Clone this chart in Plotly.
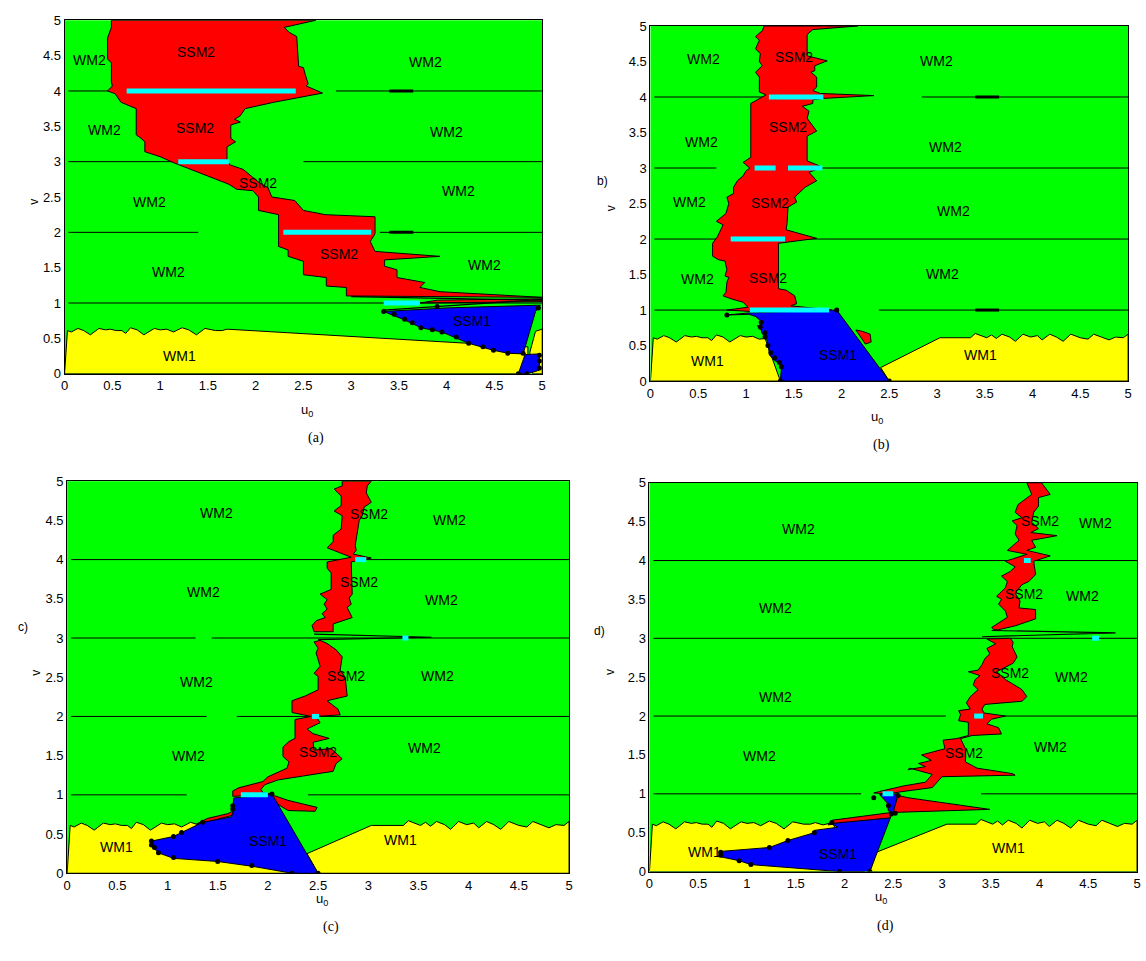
import plotly.graph_objects as go

W, H = 1146, 961
GREEN, YELLOW, RED, BLUE, CYAN = "#00FF00", "#FFFF00", "#FF0000", "#0000FF", "#00FFFF"

# ---------------- shared boundary of the WM1 region (wavy top) ----------------
wave_left = [(0.03, 0.61), (0.07, 0.59), (0.14, 0.64), (0.2, 0.61), (0.27, 0.55), (0.36, 0.64),
             (0.43, 0.62), (0.48, 0.63), (0.54, 0.61), (0.6, 0.61), (0.64, 0.57), (0.69, 0.65),
             (0.76, 0.62), (0.83, 0.55), (0.94, 0.64), (1.0, 0.62), (1.07, 0.63), (1.14, 0.59),
             (1.23, 0.65), (1.3, 0.62), (1.38, 0.55), (1.47, 0.64), (1.58, 0.61), (1.65, 0.61),
             (1.70, 0.63)]
wave_right = [(3.35, 0.61), (3.4, 0.67), (3.47, 0.63), (3.52, 0.61), (3.57, 0.65), (3.62, 0.6),
              (3.68, 0.66), (3.76, 0.62), (3.82, 0.56), (3.9, 0.66), (3.98, 0.62), (4.05, 0.64),
              (4.1, 0.58), (4.18, 0.66), (4.25, 0.62), (4.32, 0.56), (4.4, 0.66), (4.5, 0.61),
              (4.58, 0.59), (4.64, 0.66), (4.72, 0.62), (4.8, 0.58), (4.87, 0.62), (4.95, 0.61),
              (5.0, 0.66)]

# ================= panel (a) =================
a_yellow = [[(0, 0)] + wave_left + [(4.85, 0.38), (4.85, 0.0)],
            [(4.87, 0.3), (4.93, 0.6), (5.0, 0.63), (5.0, 0.0), (4.9, 0.0)]]
a_red_left = [(0.49, 5.0), (0.49, 4.9), (0.45, 4.75), (0.45, 4.45), (0.49, 4.4), (0.49, 4.13),
              (0.50, 4.07), (0.45, 4.0), (0.53, 3.96), (0.59, 3.84), (0.75, 3.75), (0.75, 3.38),
              (0.80, 3.33), (0.84, 3.28), (0.84, 3.14), (1.0, 3.07), (1.15, 2.98), (1.45, 2.82),
              (1.72, 2.68), (1.80, 2.61), (1.97, 2.59), (2.03, 2.5), (2.03, 2.31), (2.24, 2.25),
              (2.24, 1.8), (2.34, 1.75), (2.34, 1.66), (2.5, 1.59), (2.5, 1.4), (2.74, 1.36),
              (2.74, 1.24), (2.95, 1.22), (2.95, 1.1)]
a_red_right = [(2.63, 5.0), (2.3, 4.9), (2.35, 4.83), (2.43, 4.77), (2.45, 4.35), (2.5, 4.33),
               (2.52, 4.23), (2.55, 4.1), (2.53, 4.07), (2.7, 3.97), (2.53, 3.92), (2.19, 3.84),
               (1.89, 3.75), (1.84, 3.65), (1.78, 3.6), (1.84, 3.56), (1.74, 3.52), (1.74, 3.33),
               (1.79, 3.28), (1.7, 3.21), (1.7, 3.0), (1.74, 2.95), (1.87, 2.89), (2.04, 2.7),
               (2.13, 2.63), (2.17, 2.5), (2.41, 2.45), (2.5, 2.31), (2.73, 2.25), (3.25, 2.22),
               (3.25, 1.98), (3.2, 1.87), (3.25, 1.73), (3.93, 1.66), (3.35, 1.61), (3.35, 1.52),
               (3.48, 1.47), (3.48, 1.36), (3.77, 1.29), (3.72, 1.22), (3.93, 1.16), (5.0, 1.08)]
a_red_extra = [[(3.72, 1.0), (5.0, 1.02), (5.0, 1.06), (3.9, 1.04)]]
a_blue = [[(3.34, 0.88), (4.0, 0.93), (4.98, 0.97), (4.93, 0.88), (4.80, 0.28), (4.64, 0.29),
           (4.49, 0.33), (4.23, 0.43), (3.95, 0.59), (3.73, 0.65), (3.56, 0.76)],
          [(4.75, 0.0), (4.82, 0.27), (4.97, 0.28), (4.97, 0.05), (4.85, 0.0)]]
a_extra_lines = [[(3.34, 0.9), (5.0, 1.05)], [(3.5, 1.0), (5.0, 1.0)], [(3.0, 1.09), (5.0, 1.04)]]
a_hlines = [(4, 0.04, 0.5), (4, 2.84, 5.0), (3, 0.04, 1.15), (3, 2.5, 5.0),
            (2, 0.04, 1.4), (2, 3.3, 5.0), (1, 0.04, 3.4)]
a_thick = [(4, 3.4, 3.65), (2, 3.4, 3.65)]
a_cyan = [(4, 0.65, 2.42), (3, 1.19, 1.72), (2, 2.29, 3.21), (1, 3.34, 3.72)]
a_dots = [(3.34, 0.88), (3.45, 0.84), (3.56, 0.77), (3.64, 0.72), (3.73, 0.65), (3.85, 0.62),
          (3.95, 0.59), (4.1, 0.52), (4.23, 0.43), (4.38, 0.38), (4.49, 0.33), (4.64, 0.29),
          (4.80, 0.29), (4.75, 0.0), (4.84, 0.0), (4.97, 0.08), (4.97, 0.18), (4.97, 0.26),
          (4.96, 0.93), (3.9, 0.95)]
a_labels = [("WM2", 0.26, 4.44), ("SSM2", 1.38, 4.55), ("WM2", 3.78, 4.41), ("WM2", 0.42, 3.45),
            ("SSM2", 1.37, 3.48), ("WM2", 4.0, 3.42), ("SSM2", 2.03, 2.7), ("WM2", 0.89, 2.43),
            ("WM2", 4.12, 2.59), ("SSM2", 2.87, 1.69), ("WM2", 1.09, 1.44), ("WM2", 4.4, 1.54),
            ("SSM1", 4.27, 0.74), ("WM1", 1.2, 0.25), ("WM1", 5.12, 0.36)]

# ================= panel (b) =================
b_yellow = [[(0, 0)] + [p for p in wave_left if p[0] <= 1.17] + [(1.2, 0.6), (1.36, 0.0)],
            [(2.5, 0.0), (2.41, 0.19), (3.03, 0.61)] + wave_right + [(5.0, 0.0)]]
b_red_left = [(1.19, 5.0), (1.17, 4.93), (1.14, 4.9), (1.10, 4.85), (1.14, 4.8), (1.10, 4.68),
              (1.15, 4.61), (1.14, 4.5), (1.17, 4.44), (1.10, 4.35), (1.14, 4.28), (1.14, 4.07),
              (1.21, 4.03), (1.14, 3.98), (1.05, 3.91), (1.05, 3.15), (0.97, 3.08), (1.04, 3.0),
              (1.0, 2.96), (0.97, 2.89), (0.91, 2.82), (0.87, 2.73), (0.87, 2.64), (0.80, 2.59),
              (0.82, 2.5), (0.79, 2.36), (0.74, 2.31), (0.69, 2.25), (0.76, 2.2), (0.72, 2.1),
              (0.70, 2.03), (0.65, 1.94), (0.65, 1.76), (0.71, 1.71), (0.78, 1.69), (0.80, 1.57),
              (0.78, 1.48), (0.82, 1.46), (0.80, 1.39), (0.79, 1.25), (0.76, 1.2), (0.84, 1.16),
              (0.97, 1.11), (1.02, 1.04), (0.80, 1.0), (1.05, 0.98)]
b_red_right = [(2.17, 5.0), (1.70, 4.95), (1.64, 4.88), (1.64, 4.58), (1.85, 4.51), (1.72, 4.44),
               (1.72, 4.37), (1.68, 4.35), (1.74, 4.28), (1.74, 4.14), (1.70, 4.09), (1.78, 4.05),
               (2.34, 4.02), (1.81, 3.98), (1.70, 3.96), (1.70, 3.91), (1.59, 3.87), (1.66, 3.8),
               (1.64, 3.7), (1.74, 3.52), (1.64, 3.45), (1.64, 3.1), (1.77, 3.03), (1.76, 2.99),
               (1.66, 2.94), (1.74, 2.82), (1.62, 2.73), (1.51, 2.59), (1.53, 2.52), (1.44, 2.45),
               (1.43, 2.22), (1.42, 2.13), (1.74, 2.01), (1.34, 1.94), (1.34, 1.3), (1.42, 1.28),
               (1.51, 1.2), (1.53, 1.09), (1.47, 1.06), (1.9, 1.0)]
b_red_extra = [[(2.15, 0.72), (2.22, 0.7), (2.3, 0.66), (2.31, 0.55), (2.25, 0.52)],
               [(1.12, 0.78), (1.18, 0.77), (1.15, 0.72)]]
b_blue = [[(0.80, 0.93), (1.03, 0.96), (1.95, 1.0), (2.5, 0.0), (1.36, 0.0), (1.37, 0.17),
           (1.36, 0.24), (1.30, 0.29), (1.25, 0.36), (1.24, 0.45), (1.23, 0.54), (1.22, 0.58),
           (1.165, 0.68), (1.15, 0.80), (1.16, 0.84), (1.10, 0.91), (1.03, 0.94)]]
b_extra_lines = []
b_hlines = [(4, 0.04, 1.2), (4, 2.84, 5.0), (3, 0.04, 0.69), (3, 1.7, 5.0),
            (2, 0.04, 1.0), (2, 1.5, 5.0), (1, 0.04, 1.0), (1, 2.39, 5.0)]
b_thick = [(4, 3.4, 3.65), (1, 3.4, 3.65)]
b_cyan = [(4, 1.24, 1.81), (3, 1.09, 1.31), (3, 1.44, 1.80), (2, 0.84, 1.41), (1, 1.04, 1.87)]
b_dots = [(0.80, 0.93), (1.36, 0.0), (2.5, 0.0), (1.95, 1.0), (1.16, 0.83), (1.15, 0.76),
          (1.2, 0.62), (1.23, 0.5), (1.26, 0.4), (1.3, 0.33), (1.35, 0.26), (1.37, 0.2), (1.2, 0.68)]
b_labels = [("WM2", 0.56, 4.53), ("SSM2", 1.5, 4.56), ("WM2", 2.99, 4.51), ("SSM2", 1.44, 3.58),
            ("WM2", 0.53, 3.37), ("WM2", 3.09, 3.3), ("WM2", 0.41, 2.52), ("SSM2", 1.25, 2.51),
            ("WM2", 3.17, 2.4), ("WM2", 0.49, 1.44), ("SSM2", 1.23, 1.45), ("WM2", 3.06, 1.51),
            ("SSM1", 1.96, 0.36), ("WM1", 0.6, 0.28), ("WM1", 3.46, 0.36)]

# ================= panel (c) =================
c_yellow = [[(0, 0)] + [p for p in wave_left if p[0] <= 1.30] + [(1.4, 0.6), (2.3, 0.0)],
            [(2.5, 0.0), (2.39, 0.25), (3.03, 0.61)] + wave_right + [(5.0, 0.0)]]
c_red_left = [(2.74, 5.0), (2.74, 4.94), (2.66, 4.9), (2.73, 4.81), (2.73, 4.69), (2.66, 4.62),
              (2.74, 4.56), (2.73, 4.39), (2.65, 4.31), (2.65, 4.23), (2.59, 4.15), (2.83, 4.03),
              (2.59, 3.97), (2.59, 3.89), (2.63, 3.83), (2.63, 3.62), (2.52, 3.56), (2.59, 3.49),
              (2.56, 3.43), (2.59, 3.37), (2.54, 3.31), (2.57, 3.26), (2.48, 3.22), (2.44, 3.16),
              (2.46, 3.08)]
c_red_right = [(3.03, 5.0), (2.99, 4.94), (2.98, 4.85), (3.03, 4.73), (2.96, 4.67), (2.94, 4.56),
               (2.91, 4.5), (2.87, 4.18), (2.88, 4.12), (2.85, 4.07), (3.03, 4.02), (2.83, 3.97),
               (2.84, 3.56), (2.81, 3.51), (2.83, 3.43), (2.79, 3.39), (2.84, 3.26), (2.65, 3.18),
               (2.65, 3.08)]
c_red_left2 = [(2.46, 2.95), (2.5, 2.87), (2.48, 2.81), (2.52, 2.64), (2.46, 2.55), (2.5, 2.51),
               (2.5, 2.34), (2.37, 2.26), (2.24, 2.2), (2.24, 2.05), (2.43, 2.0), (2.27, 1.96),
               (2.27, 1.72), (2.21, 1.68), (2.15, 1.61), (2.15, 1.49), (2.21, 1.42), (2.19, 1.34),
               (2.0, 1.23), (1.95, 1.17), (1.71, 1.09), (1.65, 1.05), (1.65, 0.98)]
c_red_right2 = [(2.52, 2.97), (2.59, 2.93), (2.68, 2.85), (2.74, 2.76), (2.72, 2.59), (2.77, 2.5),
                (2.79, 2.26), (2.59, 2.2), (2.70, 2.09), (2.72, 2.02), (2.48, 2.0), (2.52, 1.92),
                (2.39, 1.84), (2.45, 1.78), (2.61, 1.72), (2.45, 1.67), (2.46, 1.57), (2.63, 1.59),
                (2.74, 1.46), (2.68, 1.4), (2.65, 1.3), (2.3, 1.23), (2.1, 1.19), (1.97, 1.13),
                (1.93, 1.07), (1.95, 1.03), (2.04, 1.01)]
c_red_extra = [[(2.04, 1.0), (2.2, 0.93), (2.49, 0.84), (2.47, 0.79), (2.2, 0.8), (2.1, 0.88)],
               [(1.29, 0.63), (1.4, 0.7), (1.6, 0.76), (1.66, 0.8), (1.65, 0.74), (1.35, 0.64)]]
c_blue = [[(1.66, 0.96), (2.04, 1.01), (2.5, 0.0), (2.24, 0.0), (1.84, 0.09), (1.5, 0.15),
           (1.06, 0.19), (0.91, 0.26), (0.84, 0.35), (0.84, 0.41), (1.06, 0.47), (1.14, 0.52),
           (1.35, 0.65), (1.64, 0.72), (1.65, 0.78), (1.65, 0.84)]]
c_extra_lines = [[(2.46, 3.05), (3.63, 3.01), (2.5, 2.98)]]
c_hlines = [(4, 0.04, 5.0), (3, 0.04, 1.28), (3, 1.44, 5.0), (2, 0.04, 1.39), (2, 1.69, 5.0),
            (1, 0.04, 1.19), (1, 2.4, 5.0)]
c_thick = []
c_cyan = [(4, 2.87, 2.98), (3, 3.34, 3.40), (2, 2.44, 2.51), (1, 1.73, 2.0)]
c_dots = [(0.84, 0.41), (0.84, 0.36), (0.87, 0.33), (0.91, 0.26), (1.06, 0.2), (1.5, 0.15),
          (1.84, 0.1), (2.24, 0.0), (2.5, 0.0), (1.65, 0.86), (1.65, 0.82), (1.14, 0.52),
          (1.06, 0.47), (2.04, 1.01), (1.35, 0.65)]
c_labels = [("WM2", 1.49, 4.6), ("SSM2", 3.01, 4.58), ("WM2", 3.81, 4.51), ("SSM2", 2.91, 3.72),
            ("WM2", 1.36, 3.59), ("WM2", 3.73, 3.48), ("SSM2", 2.78, 2.51), ("WM2", 1.29, 2.44),
            ("WM2", 3.69, 2.51), ("SSM2", 2.5, 1.55), ("WM2", 1.21, 1.49), ("WM2", 3.56, 1.6),
            ("SSM1", 2.0, 0.41), ("WM1", 0.49, 0.34), ("WM1", 3.32, 0.42)]

# ================= panel (d) =================
d_yellow = [[(0, 0)] + wave_left + [(1.78, 0.6), (1.87, 0.63), (2.2, 0.0)],
            [(2.26, 0.0), (2.33, 0.25), (3.05, 0.61)] + wave_right + [(5.0, 0.0)]]
d_red_left = [(3.87, 5.0), (3.92, 4.85), (3.78, 4.72), (3.75, 4.62), (3.82, 4.55), (3.72, 4.51),
              (3.77, 4.45), (3.75, 4.34), (3.79, 4.26), (3.67, 4.13), (3.87, 4.08), (3.65, 3.99),
              (3.75, 3.92), (3.7, 3.86), (3.61, 3.8), (3.67, 3.73), (3.65, 3.65), (3.56, 3.54),
              (3.61, 3.5), (3.58, 3.44), (3.65, 3.35), (3.67, 3.27), (3.51, 3.14), (3.53, 3.11)]
d_red_right = [(4.02, 5.0), (4.11, 4.85), (3.99, 4.81), (3.99, 4.7), (3.94, 4.62), (3.92, 4.49),
               (3.99, 4.41), (3.91, 4.36), (4.18, 4.32), (3.92, 4.26), (3.96, 4.17), (3.87, 4.13),
               (4.11, 4.06), (3.94, 3.99), (3.96, 3.82), (3.89, 3.73), (3.82, 3.69), (3.75, 3.58),
               (3.8, 3.48), (3.79, 3.39), (3.96, 3.37), (3.96, 3.25), (3.75, 3.16), (3.58, 3.11)]
d_red_left2 = [(3.46, 2.99), (3.55, 2.93), (3.46, 2.87), (3.49, 2.8), (3.44, 2.74), (3.41, 2.66),
               (3.37, 2.59), (3.27, 2.57), (3.39, 2.52), (3.34, 2.47), (3.32, 2.4), (3.37, 2.34),
               (3.29, 2.25), (3.25, 2.17), (3.29, 2.09), (3.17, 2.07), (3.19, 2.02), (3.17, 1.94),
               (3.27, 1.92), (3.27, 1.75), (3.15, 1.71), (3.01, 1.69), (3.03, 1.58), (2.79, 1.5),
               (2.89, 1.43), (2.76, 1.39), (2.83, 1.35), (2.65, 1.31), (2.67, 1.33), (2.9, 1.25),
               (2.83, 1.15), (2.6, 1.1), (2.36, 1.03), (2.3, 1.01)]
d_red_right2 = [(3.7, 3.0), (3.73, 2.95), (3.72, 2.89), (3.77, 2.76), (3.73, 2.68), (3.56, 2.57),
                (3.65, 2.47), (3.82, 2.34), (3.87, 2.25), (3.82, 2.19), (3.44, 2.15), (3.41, 2.09),
                (3.43, 2.04), (3.65, 2.0), (3.51, 1.96), (3.46, 1.9), (3.58, 1.85), (3.61, 1.77),
                (3.31, 1.75), (3.19, 1.71), (3.24, 1.58), (3.24, 1.41), (3.36, 1.33), (3.72, 1.26),
                (3.75, 1.24), (3.0, 1.22), (2.95, 1.15), (2.9, 1.08), (2.6, 1.03), (2.45, 1.0)]
d_red_extra = [[(2.55, 0.98), (2.65, 0.95), (3.49, 0.80), (2.6, 0.76), (2.48, 0.76), (1.87, 0.66),
                (1.83, 0.6), (1.95, 0.62), (2.47, 0.69)]]
d_blue = [[(0.73, 0.26), (1.23, 0.31), (1.42, 0.40), (1.69, 0.50), (1.69, 0.53), (1.93, 0.57),
           (1.87, 0.62), (2.47, 0.69), (2.26, 0.0), (1.95, 0.0), (1.04, 0.09), (0.92, 0.14),
           (0.73, 0.19)],
          [(2.36, 0.99), (2.55, 1.0), (2.5, 0.76), (2.45, 0.78), (2.44, 0.88)]]
d_extra_lines = [[(3.41, 3.02), (4.78, 3.07), (3.51, 3.1)]]
d_hlines = [(4, 0.04, 5.0), (3, 0.04, 5.0), (2, 0.04, 3.04), (2, 3.5, 5.0),
            (1, 0.04, 2.17), (1, 3.4, 5.0)]
d_thick = []
d_cyan = [(4, 3.84, 3.91), (3, 4.54, 4.61), (2, 3.33, 3.42), (1, 2.39, 2.5)]
d_dots = [(0.73, 0.25), (0.73, 0.21), (0.92, 0.14), (1.04, 0.09), (1.95, 0.0), (2.26, 0.0),
          (1.23, 0.31), (1.42, 0.40), (1.69, 0.50), (1.87, 0.63), (2.3, 0.95), (2.48, 0.74),
          (2.52, 0.75), (2.55, 0.98), (2.45, 0.85)]
d_labels = [("WM2", 1.53, 4.4), ("SSM2", 4.01, 4.51), ("WM2", 4.57, 4.48), ("WM2", 1.29, 3.39),
            ("SSM2", 3.84, 3.57), ("WM2", 4.44, 3.54), ("WM2", 1.29, 2.25), ("SSM2", 3.7, 2.55),
            ("WM2", 4.33, 2.5), ("WM2", 1.13, 1.49), ("SSM2", 3.23, 1.53), ("WM2", 4.11, 1.6),
            ("SSM1", 1.93, 0.23), ("WM1", 0.56, 0.25), ("WM1", 3.68, 0.3)]

tick_vals = [0, 0.5, 1, 1.5, 2, 2.5, 3, 3.5, 4, 4.5, 5]
tick_text = ["0", "0.5", "1", "1.5", "2", "2.5", "3", "3.5", "4", "4.5", "5"]
captions = ["(a)", "(b)", "(c)", "(d)"]

# ---------------- layout geometry (pixels) ----------------
boxes = [(61, 542, 13.5, 372.5), (651, 1132, 19.3, 380), (63.6, 569, 481.7, 880), (650, 1141, 483.3, 878.3)]

panels = [
    dict(yellow=a_yellow, red=[a_red_left + a_red_right[::-1]], red_extra=a_red_extra, blue=a_blue,
         extra=a_extra_lines, hl=a_hlines, thick=a_thick, cyan=a_cyan, dots=a_dots, labels=a_labels),
    dict(yellow=b_yellow, red=[b_red_left + b_red_right[::-1]], red_extra=b_red_extra, blue=b_blue,
         extra=b_extra_lines, hl=b_hlines, thick=b_thick, cyan=b_cyan, dots=b_dots, labels=b_labels),
    dict(yellow=c_yellow, red=[c_red_left + c_red_right[::-1], c_red_left2 + c_red_right2[::-1]],
         red_extra=c_red_extra, blue=c_blue, extra=c_extra_lines, hl=c_hlines, thick=c_thick,
         cyan=c_cyan, dots=c_dots, labels=c_labels),
    dict(yellow=d_yellow, red=[d_red_left + d_red_right[::-1], d_red_left2 + d_red_right2[::-1]],
         red_extra=d_red_extra, blue=d_blue, extra=d_extra_lines, hl=d_hlines, thick=d_thick,
         cyan=d_cyan, dots=d_dots, labels=d_labels),
]

fig = go.Figure()
annotations = []
FONT = "Liberation Sans, Arial"


def px_x(x):
    return x / W


def px_y(y):
    return 1 - y / H


for i, (p, box) in enumerate(zip(panels, boxes)):
    n = "" if i == 0 else str(i + 1)
    xa, ya = "x" + n, "y" + n

    def poly(pts, color):
        xs = [q[0] for q in pts] + [pts[0][0]]
        ys = [q[1] for q in pts] + [pts[0][1]]
        fig.add_trace(go.Scatter(x=xs, y=ys, fill="toself", fillcolor=color, mode="lines",
                                 line=dict(color="black", width=1), xaxis=xa, yaxis=ya,
                                 hoverinfo="skip", showlegend=False))

    def segs(items, color, width):
        xs, ys = [], []
        for v, u0, u1 in items:
            xs += [u0, u1, None]
            ys += [v, v, None]
        if xs:
            fig.add_trace(go.Scatter(x=xs, y=ys, mode="lines",
                                     line=dict(color=color, width=width),
                                     xaxis=xa, yaxis=ya, hoverinfo="skip", showlegend=False))

    for poly_pts in p["yellow"]:
        poly(poly_pts, YELLOW)
    segs(p["hl"], "black", 1)
    segs(p["thick"], "black", 3)
    for poly_pts in p["red"]:
        poly(poly_pts, RED)
    for poly_pts in p["red_extra"]:
        poly(poly_pts, RED)
    for poly_pts in p["blue"]:
        poly(poly_pts, BLUE)
    for ln in p["extra"]:
        fig.add_trace(go.Scatter(x=[q[0] for q in ln], y=[q[1] for q in ln], mode="lines",
                                 line=dict(color="black", width=1.2), xaxis=xa, yaxis=ya,
                                 hoverinfo="skip", showlegend=False))
    segs(p["cyan"], CYAN, 5)
    fig.add_trace(go.Scatter(x=[q[0] for q in p["dots"]], y=[q[1] for q in p["dots"]], mode="markers",
                             marker=dict(color="black", size=5), xaxis=xa, yaxis=ya,
                             hoverinfo="skip", showlegend=False))
    for txt, u, v in p["labels"]:
        annotations.append(dict(text=txt, x=u, y=v, xref=xa, yref=ya, showarrow=False,
                                font=dict(family=FONT, size=14, color="black")))

    l, r, t, b = box
    axis_common = dict(range=[0, 5], tickvals=tick_vals, ticktext=tick_text, showgrid=False,
                       zeroline=False, showline=True, linecolor="black", linewidth=1, mirror=True,
                       ticks="", tickfont=dict(family=FONT, size=13, color="black"),
                       fixedrange=True)
    fig.update_layout(**{
        ("xaxis" + n): dict(domain=[px_x(l), px_x(r)], anchor=ya, **axis_common),
        ("yaxis" + n): dict(domain=[px_y(b), px_y(t)], anchor=xa, **axis_common),
    })

    # axis titles and caption
    annotations.append(dict(text="u<sub>0</sub>", x=px_x((l + r) / 2 - 4), y=px_y(b + 37),
                            xref="paper", yref="paper", showarrow=False,
                            font=dict(family=FONT, size=13, color="black")))
    annotations.append(dict(text="v", x=px_x(l - 40), y=px_y((t + b) / 2), textangle=-90,
                            xref="paper", yref="paper", showarrow=False,
                            font=dict(family=FONT, size=12, color="black")))
    annotations.append(dict(text=captions[i], x=px_x((l + r) / 2 + 3), y=px_y(b + 65),
                            xref="paper", yref="paper", showarrow=False,
                            font=dict(family="Liberation Serif, Times New Roman", size=14, color="black")))

# small panel tags at the left of the plots
for txt, x, y in [("b)", 603, 168), ("c)", 12, 630), ("d)", 600, 643)]:
    annotations.append(dict(text=txt, x=px_x(x), y=px_y(y), xref="paper", yref="paper", showarrow=False,
                            font=dict(family=FONT, size=12, color="black")))

fig.update_layout(width=W, height=H, margin=dict(l=0, r=0, t=0, b=0), paper_bgcolor="white",
                  plot_bgcolor=GREEN, showlegend=False, annotations=annotations)

fig.write_html("out.html")
